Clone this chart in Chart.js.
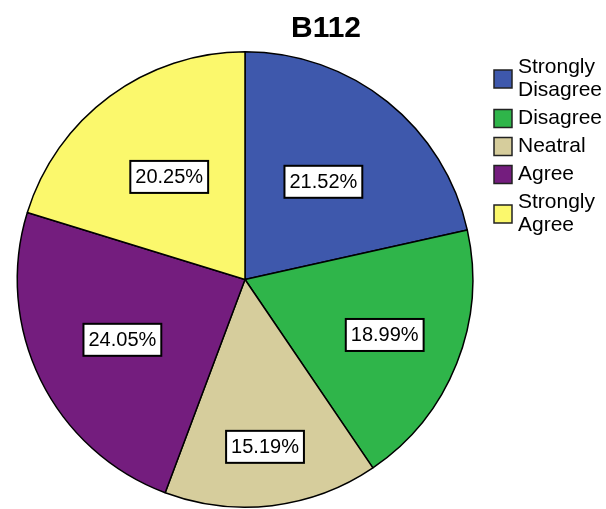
<!DOCTYPE html>
<html>
<head>
<meta charset="utf-8">
<script src="https://cdn.jsdelivr.net/npm/chart.js@4/dist/chart.umd.min.js"></script>
<style>
  body { margin: 0; background: #fff; }
  canvas { display: block; }
</style>
</head>
<body>
<canvas id="pieChart" width="606" height="509"></canvas>
<script>
const chartTitle = "B112";
const categories = ["Strongly Disagree", "Disagree", "Neatral", "Agree", "Strongly Agree"];
const legendLines = [["Strongly", "Disagree"], ["Disagree"], ["Neatral"], ["Agree"], ["Strongly", "Agree"]];
const percents = [21.52, 18.99, 15.19, 24.05, 20.25];
const sliceColors = ["#3e58ac", "#2fb54a", "#d6cd9c", "#741d7e", "#fbf86c"];

// how far out (fraction of radius) each % box sits
const labelRadius = [0.55, 0.66, 0.74, 0.6, 0.56];

const decorations = {
  id: "decorations",
  afterDraw(chart) {
    const ctx = chart.ctx;
    ctx.save();

    // title
    ctx.fillStyle = "#000";
    ctx.font = "bold 30px 'Liberation Sans', Arial, sans-serif";
    ctx.textAlign = "center";
    ctx.textBaseline = "alphabetic";
    ctx.fillText(chartTitle, 326, 37);

    // percent boxes
    ctx.font = "20px 'Liberation Sans', Arial, sans-serif";
    ctx.textBaseline = "middle";
    chart.getDatasetMeta(0).data.forEach((arc, i) => {
      const p = arc.getProps(["x", "y", "startAngle", "endAngle", "outerRadius"], true);
      const mid = (p.startAngle + p.endAngle) / 2;
      const r = p.outerRadius * labelRadius[i];
      const cx = p.x + Math.cos(mid) * r;
      const cy = p.y + Math.sin(mid) * r;
      const text = percents[i].toFixed(2) + "%";
      const w = ctx.measureText(text).width + 10;
      const h = 32;
      ctx.fillStyle = "#fff";
      ctx.fillRect(cx - w / 2, cy - h / 2, w, h);
      ctx.strokeStyle = "#000";
      ctx.lineWidth = 2;
      ctx.strokeRect(cx - w / 2, cy - h / 2, w, h);
      ctx.fillStyle = "#000";
      ctx.fillText(text, cx, cy + 1);
    });

    // legend
    ctx.textAlign = "left";
    ctx.font = "21px 'Liberation Sans', Arial, sans-serif";
    let y = 56;
    legendLines.forEach((lines, i) => {
      const blockH = lines.length * 23;
      const sq = 18;
      const sy = y + blockH / 2 - sq / 2;
      ctx.fillStyle = sliceColors[i];
      ctx.fillRect(494, sy, sq, sq);
      ctx.strokeStyle = "#222";
      ctx.lineWidth = 1.5;
      ctx.strokeRect(494, sy, sq, sq);
      ctx.fillStyle = "#000";
      lines.forEach((ln, k) => {
        ctx.fillText(ln, 518, y + k * 23 + 11);
      });
      y += blockH + 5;
    });

    ctx.restore();
  }
};

new Chart(document.getElementById("pieChart"), {
  type: "pie",
  data: {
    labels: categories,
    datasets: [
      {
        data: percents,
        backgroundColor: sliceColors,
        borderColor: "#000",
        borderWidth: 1.5,
      },
    ],
  },
  options: {
    responsive: false,
    animation: false,
    layout: {
      padding: { left: 16, right: 132, top: 51, bottom: 1 },
    },
    plugins: {
      legend: { display: false },
      title: { display: false },
      tooltip: { enabled: false },
    },
  },
  plugins: [decorations],
});
</script>
</body>
</html>
